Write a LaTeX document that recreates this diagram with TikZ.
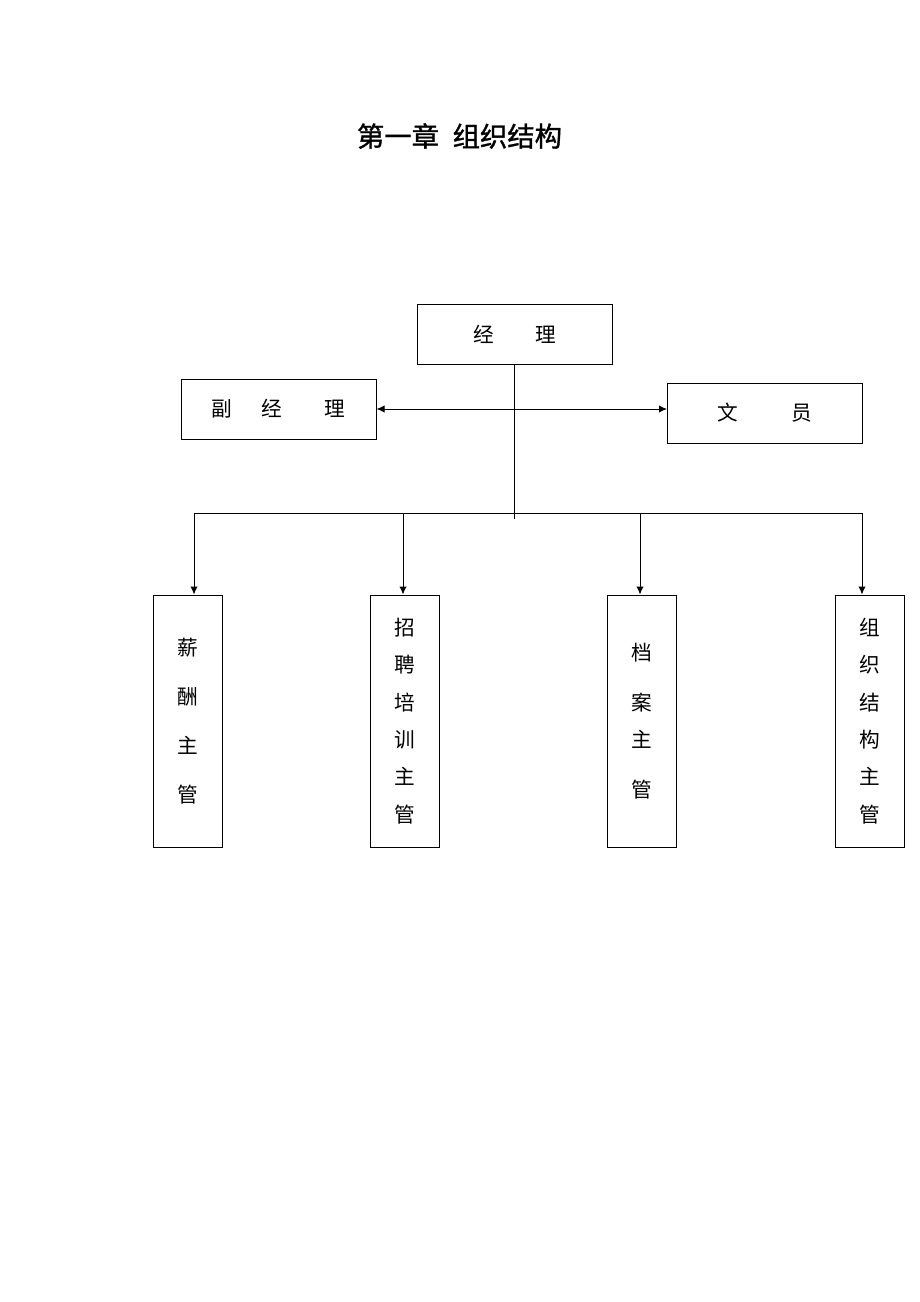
\documentclass[tikz,border=0pt]{standalone}
\usepackage{fontspec}
\newfontfamily\cjk{Noto Sans CJK SC}
\newfontfamily\cjktitle[AutoFakeBold=1.2]{Noto Sans CJK SC}
\usepackage{tikz}
\usetikzlibrary{arrows.meta,positioning}
\tikzstyle{block} = [rectangle, draw, line width=0.75pt, fill=white,
    minimum width=146.25pt, minimum height=45pt, inner sep=0pt,
    font=\cjk\fontsize{15.5}{18}\selectfont]
\tikzstyle{tall} = [rectangle, draw, line width=0.75pt, fill=white,
    minimum width=51.75pt, minimum height=189pt, inner sep=0pt,
    align=center, font=\cjk\fontsize{15.5}{28}\selectfont]
\tikzstyle{line} = [draw, line width=0.75pt, -{Latex[length=6pt,width=5.5pt]}]

\begin{document}
\begin{tikzpicture}[x=0.75pt, y=-0.75pt]
    \useasboundingbox (0,0) rectangle (920,1302);

    % Title
    \node [font=\cjktitle\bfseries\fontsize{20.5}{24}\selectfont] (title) at (459.5,136) {第一章\hspace{0.5em}组织结构};

    % Top level
    \node [block] (jl) at (514.5,334) {经\hspace{2em}理};
    \node [block] (fjl) at (278.5,409) {副\hspace{1.45em}经\hspace{2.05em}理};
    \node [block] (wy) at (765,413) {文\hspace{2.6em}员};

    % Supervisors
    \node [tall] (xc) at (187.5,721) {薪\\[8.75pt]酬\\[8.75pt]主\\[8.75pt]管};
    \node [tall] (zp) at (404.5,721) {招\\聘\\培\\训\\主\\管};
    \node [tall] (da) at (642,721) {档\\[9.5pt]案\\主\\[9.5pt]管};
    \node [tall] (zz) at (869.5,721) {组\\织\\结\\构\\主\\管};

    % Bus points
    \coordinate (stem) at (514.5,519);
    \coordinate (b1) at (194,513);
    \coordinate (b2) at (403,513);
    \coordinate (b3) at (640,513);
    \coordinate (b4) at (862,513);

    % Connections
    \draw [line width=0.75pt] (jl.south) -- (stem);
    \path [line, {Latex[length=6pt,width=5.5pt]}-{Latex[length=6pt,width=5.5pt]}] (fjl.east) -- (fjl.east -| wy.west);
    \draw [line width=0.75pt] (b1) -- (b4);
    \path [line] (b1) -- (b1 |- xc.north);
    \path [line] (b2) -- (b2 |- zp.north);
    \path [line] (b3) -- (b3 |- da.north);
    \path [line] (b4) -- (b4 |- zz.north);
\end{tikzpicture}
\end{document}
